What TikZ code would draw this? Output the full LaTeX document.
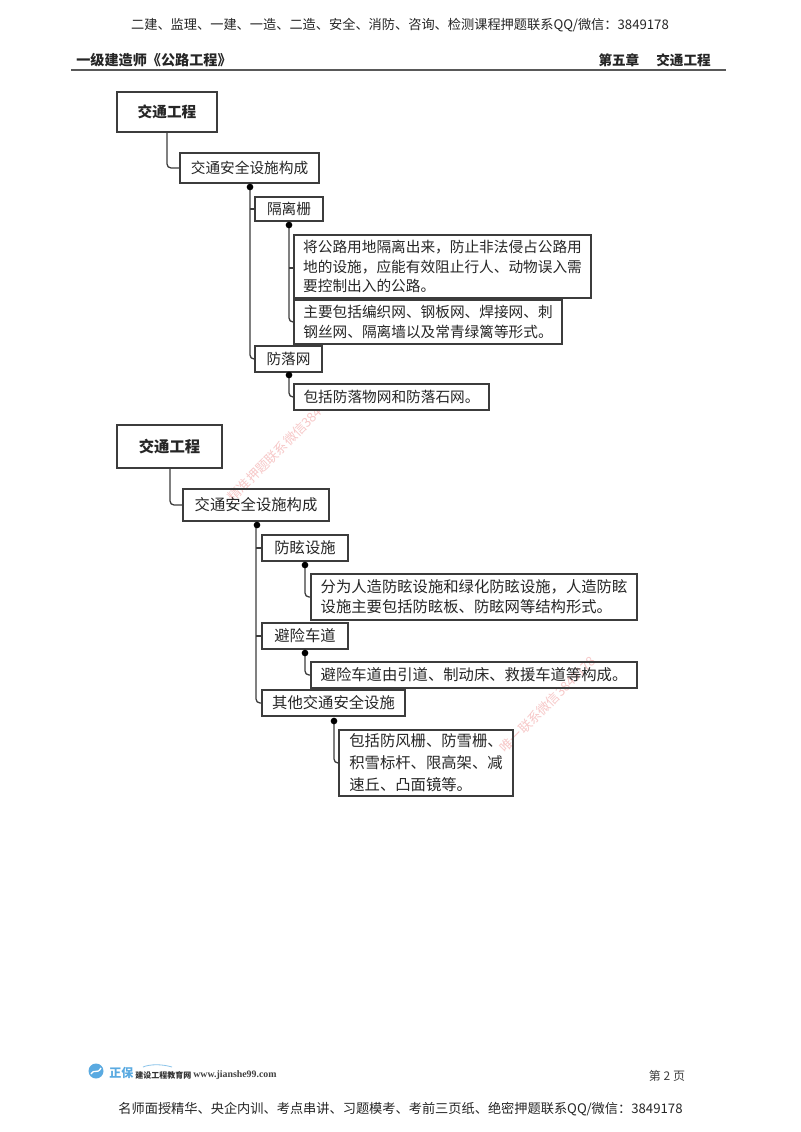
\documentclass[tikz,border=0pt]{standalone}
\usepackage{fontspec}
\setmainfont{Noto Sans CJK SC}
\newfontfamily\serifl{Liberation Serif}
\definecolor{linec}{RGB}{60,60,60}
\definecolor{wm}{RGB}{247,200,200}
\definecolor{logob}{RGB}{90,170,225}
\tikzset{
 x=0.75pt,y=-0.75pt,
 box/.style={draw=linec,line width=0.95pt,inner sep=0pt,outer sep=0pt,anchor=north west,font=\fontsize{11pt}{14.6pt}\selectfont,text=black!85,align=left},
 boxw/.style={box,font=\fontsize{11.5pt}{15pt}\selectfont},
 boxf/.style={box,font=\fontsize{11.5pt}{16.5pt}\selectfont},
 big/.style={box,line width=1.1pt,font=\fontsize{11pt}{14pt}\selectfont\bfseries,align=center},
 bigw/.style={big,font=\fontsize{11.5pt}{14pt}\selectfont\bfseries},
 conn/.style={draw=linec,line width=0.95pt,rounded corners=3pt},
 dotn/.style={circle,fill=black,inner sep=0pt,minimum size=5pt},
 head/.style={font=\fontsize{9.9pt}{12pt}\selectfont,text=black!85},
 hb/.style={font=\fontsize{10.2pt}{12pt}\selectfont\bfseries,text=black!85,inner sep=0pt},
 wmark/.style={font=\fontsize{9.8pt}{12pt}\selectfont,text=wm,rotate=45,anchor=west,inner sep=0pt}
}
\newcommand{\pbox}[7]{% name,x1,y1,x2,y2,style,text
 \node[#6,minimum width={(#4-#2)*0.75pt},minimum height={(#5-#3)*0.75pt}] (#1) at (#2,#3) {#7};}
\begin{document}
\begin{tikzpicture}
\useasboundingbox (0,0) rectangle (800,1132);
\fill[white] (0,0) rectangle (800,1132);
% header
\node[head] (htop) at (400,25) {二建、监理、一建、一造、二造、安全、消防、咨询、检测课程押题联系QQ/微信：3849178};
\node[hb,anchor=west,font=\fontsize{10.6pt}{12pt}\selectfont\bfseries] (hl) at (76,60) {一级建造师《公路工程》};
\node[hb,anchor=east] (hr) at (711,60) {第五章\hspace{1.25em}交通工程};
\draw[draw=black!65,line width=1pt] (71,70) -- (726,70);
% watermarks
\node[wmark] (w1) at (230,499) {精准押题联系微信3849178};
\node[wmark] (w2) at (502,750) {唯一联系微信3849178};
% first tree
\coordinate (s1) at (250,187);
\coordinate (k1) at (289,225);
\coordinate (k2) at (289,375);
\draw[conn] (167,132) -- (167,168) -- (180,168);
\draw[conn] (250,187) -- (250,359) -- (255,359);
\draw[conn] (250,209) -- (255,209);
\draw[conn] (289,225) -- (289,322) -- (294,322);
\draw[conn] (289,268) -- (294,268);
\draw[conn] (289,375) -- (289,397) -- (294,397);
\pbox{a1}{117}{92}{217}{132}{big}{交通工程}
\pbox{a2}{180}{153}{319}{183}{box}{交通安全设施构成}
\pbox{a3}{255}{197}{323}{221}{box}{隔离栅}
\pbox{a4}{294}{235}{591}{298}{box}{将公路用地隔离出来，防止非法侵占公路用\\地的设施，应能有效阻止行人、动物误入需\\要控制出入的公路。}
\pbox{a5}{294}{300}{562}{344}{box}{主要包括编织网、钢板网、焊接网、刺\\钢丝网、隔离墙以及常青绿篱等形式。}
\pbox{a6}{255}{346}{322}{372}{box}{防落网}
\pbox{a7}{294}{384}{489}{410}{box,fill=white}{包括防落物网和防落石网。}
\node[dotn] (d1) at (s1) {};
\node[dotn] (d2) at (k1) {};
\node[dotn] (d3) at (k2) {};
% second tree
\coordinate (s2) at (257,525);
\coordinate (k3) at (305,565);
\coordinate (k4) at (305,653);
\coordinate (k5) at (334,721);
\draw[conn] (170,468) -- (170,505) -- (183,505);
\draw[conn] (256,525) -- (256,703) -- (262,703);
\draw[conn] (256,548) -- (262,548);
\draw[conn] (256,636) -- (262,636);
\draw[conn] (305,565) -- (305,597) -- (311,597);
\draw[conn] (305,653) -- (305,675) -- (311,675);
\draw[conn] (334,721) -- (334,763) -- (339,763);
\pbox{b1}{117}{425}{222}{468}{bigw}{交通工程}
\pbox{b2}{183}{489}{329}{521}{boxw}{交通安全设施构成}
\pbox{b3}{262}{535}{348}{561}{boxw}{防眩设施}
\pbox{b4}{311}{574}{637}{620}{boxw}{分为人造防眩设施和绿化防眩设施，人造防眩\\设施主要包括防眩板、防眩网等结构形式。}
\pbox{b5}{262}{623}{348}{649}{boxw}{避险车道}
\pbox{b6}{311}{662}{637}{688}{boxw}{避险车道由引道、制动床、救援车道等构成。}
\pbox{b7}{262}{690}{405}{716}{boxw}{其他交通安全设施}
\pbox{b8}{339}{730}{513}{796}{boxf}{包括防风栅、防雪栅、\\积雪标杆、限高架、减\\速丘、凸面镜等。}
\node[dotn] (d4) at (s2) {};
\node[dotn] (d5) at (k3) {};
\node[dotn] (d6) at (k4) {};
\node[dotn] (d7) at (k5) {};
% footer
\fill[logob] (96,1071) circle (7.5);
\draw[white,line width=1pt] (91,1074) .. controls (95,1068) and (97,1075) .. (101,1068);
\draw[logob!70,line width=0.6pt] (143,1067) .. controls (150,1064) and (162,1064) .. (172,1067);
\node[font=\fontsize{9pt}{12pt}\selectfont\bfseries,text=logob,anchor=west,inner sep=0pt] (l1) at (109,1073) {正保};
\node[font=\fontsize{6pt}{7pt}\selectfont\bfseries,text=black!80,anchor=west,inner sep=0pt] (l2) at (135,1075) {建设工程教育网};
\node[font=\fontsize{7.4pt}{8pt}\selectfont\serifl\bfseries,text=black!75,anchor=west,inner sep=0pt] (l3) at (193,1075) {www.jianshe99.com};
\node[font=\fontsize{9pt}{11pt}\selectfont,text=black!75] (pg) at (667,1076) {第 2 页};
\node[head] (hbot) at (400.5,1109) {名师面授精华、央企内训、考点串讲、习题模考、考前三页纸、绝密押题联系QQ/微信：3849178};
\end{tikzpicture}
\end{document}
